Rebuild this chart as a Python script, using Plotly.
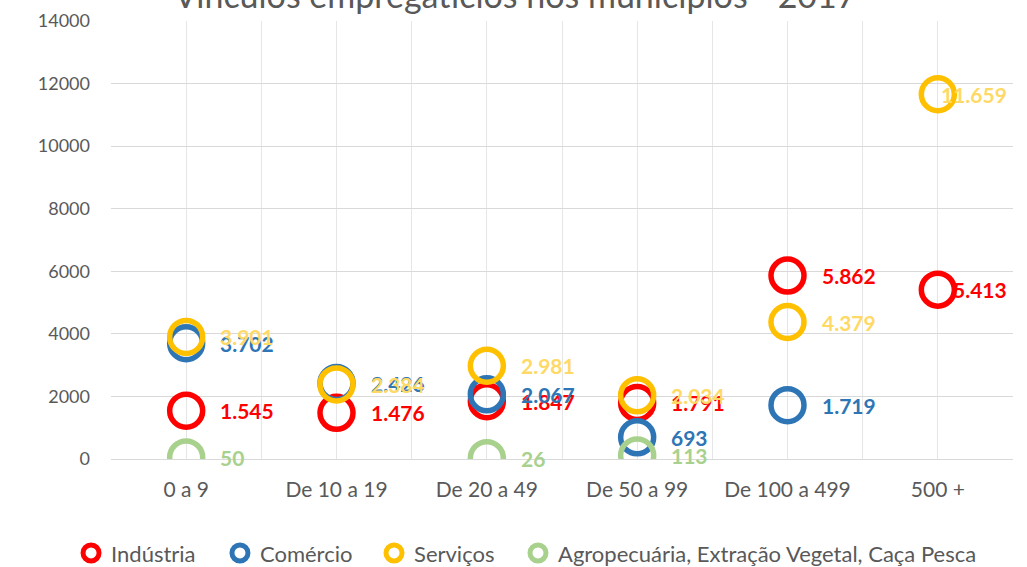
import plotly.graph_objects as go

categories = ["0 a 9", "De 10 a 19", "De 20 a 49", "De 50 a 99", "De 100 a 499", "500 +"]
industria = [1545, 1476, 1847, 1791, 5862, 5413]
comercio = [3702, 2426, 2067, 693, 1719, None]
servicos = [3901, 2384, 2981, 2034, 4379, 11659]
agro = [50, None, 26, 113, None, None]

series_names = ["Indústria", "Comércio", "Serviços", "Agropecuária, Extração Vegetal, Caça Pesca"]
series_values = [industria, comercio, servicos, agro]
marker_colors = ["#FF0000", "#2E75B6", "#FFC000", "#A9D18E"]
label_colors = ["#FF0000", "#2E75B6", "#FFD966", "#A9D18E"]
legend_x = [-0.0443, 0.1208, 0.2916, 0.4512]

y_ticks = [0, 2000, 4000, 6000, 8000, 10000, 12000, 14000]

FONT = "Lato"
xs = list(range(len(categories)))

fig = go.Figure()
annotations = []
legend_layouts = {}
for i, (name, vals, mc, lc) in enumerate(zip(series_names, series_values, marker_colors, label_colors)):
    lname = "legend" if i == 0 else f"legend{i + 1}"
    fig.add_trace(go.Scatter(
        x=xs, y=vals, mode="markers", name=name, legend=lname,
        marker=dict(symbol="circle-open", size=33, color=mc, line=dict(width=5.5, color=mc)),
        hoverinfo="skip",
    ))
    legend_layouts[lname] = dict(
        orientation="h", x=legend_x[i], xanchor="left", y=-0.215, yanchor="middle",
        bgcolor="rgba(0,0,0,0)",
        font=dict(family=FONT, size=22, color="#595959"),
    )
    for xi, v in zip(xs, vals):
        if v is None:
            continue
        txt = f"{v:,}".replace(",", ".")
        last = xi == len(categories) - 1
        annotations.append(dict(
            x=(len(categories) - 0.5) if last else xi, y=v, xref="x", yref="y",
            text=txt, showarrow=False,
            xanchor="right" if last else "left",
            xshift=-4 if last else 32,
            font=dict(family=FONT, size=21, color=lc, weight="bold"),
        ))

annotations.append(dict(
    text="Vínculos empregatícios nos municípios - 2017", x=0.449, xref="paper",
    y=1.0595, yref="paper", yanchor="middle", xanchor="center", showarrow=False,
    font=dict(family=FONT, size=34, color="#595959"),
))

fig.update_layout(
    width=1027, height=567,
    margin=dict(l=111, r=14, t=21, b=108, autoexpand=False),
    paper_bgcolor="white", plot_bgcolor="white",
    xaxis=dict(range=[-0.5, len(categories) - 0.5], tickvals=xs, ticktext=categories,
               showgrid=True, gridcolor="#E6E6E6", gridwidth=1.3, zeroline=False,
               showline=False, ticks="", ticklabelstandoff=16,
               minor=dict(dtick=0.5, tick0=0.5, showgrid=True, gridcolor="#E6E6E6", gridwidth=1.3),
               tickfont=dict(family=FONT, size=21, color="#595959")),
    yaxis=dict(range=[0, 14000], tickvals=y_ticks, ticktext=[str(t) for t in y_ticks],
               showgrid=True, gridcolor="#D9D9D9", gridwidth=1.3, zeroline=True,
               zerolinecolor="#D9D9D9", zerolinewidth=1.3, showline=False, ticks="",
               ticklabelstandoff=20,
               tickfont=dict(family=FONT, size=18, color="#595959")),
    annotations=annotations,
    showlegend=True,
    **legend_layouts,
)

fig.write_html("out.html", post_script="document.body.style.margin='0';",
               config={"displayModeBar": False})
